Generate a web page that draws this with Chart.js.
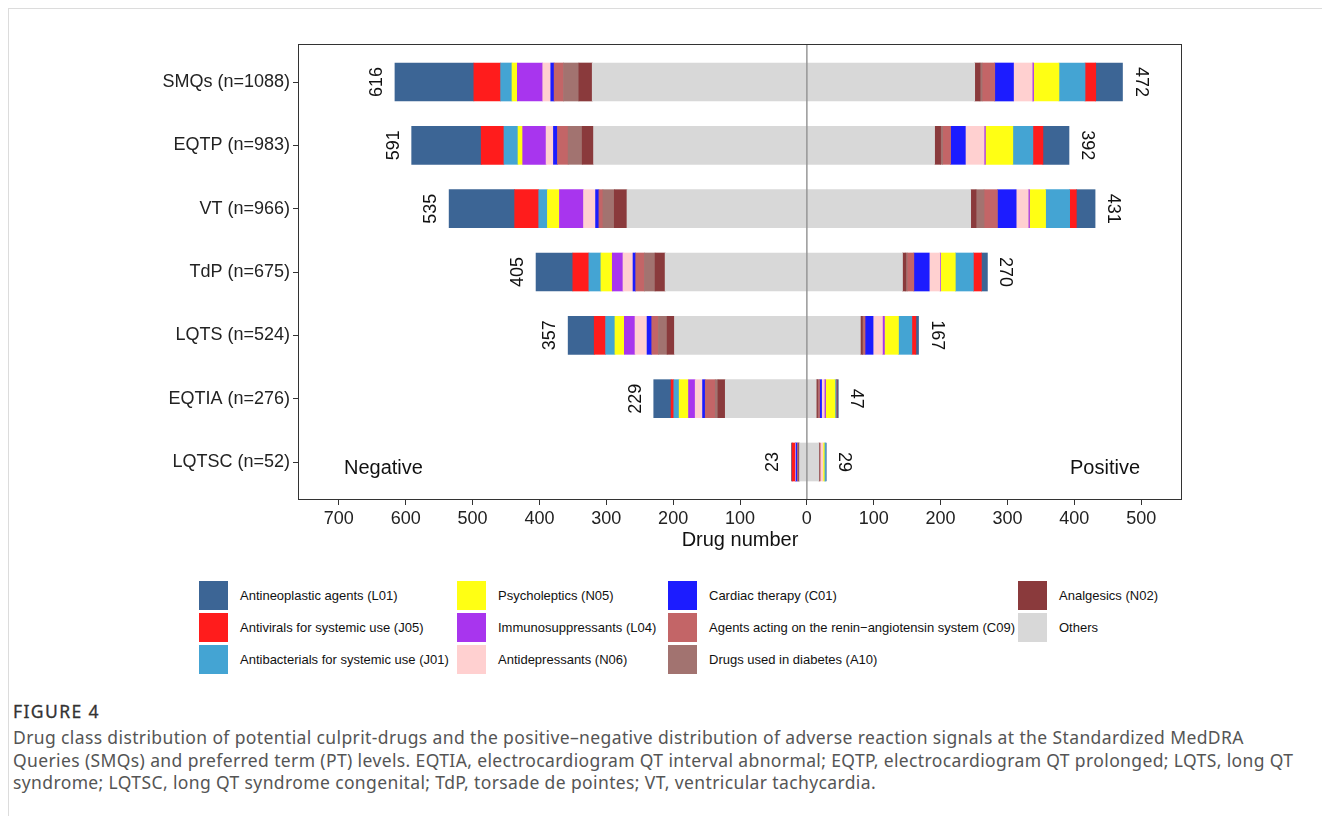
<!DOCTYPE html>
<html>
<head>
<meta charset="utf-8">
<script src="https://cdn.jsdelivr.net/npm/chart.js@4/dist/chart.umd.min.js"></script>
<style>
  body { margin: 0; background: #fff; width: 1322px; height: 816px; overflow: hidden; position: relative; font-family: "Liberation Sans", Arial, sans-serif; }
  #frame { position: absolute; left: 8px; top: 8px; width: 1340px; height: 840px; border: 1px solid #dcdcdc; }
  #wrap { position: absolute; left: 0; top: 0; width: 1322px; height: 560px; }
  .leg { position: absolute; font-size: 13px; color: #111; white-space: nowrap; }
  .leg span { position: absolute; width: 29px; height: 29px; left: 0; top: 0; }
  .leg b { position: absolute; left: 41px; top: 7px; font-weight: normal; }
  #fig { position: absolute; left: 13px; top: 699px; font-family: "Noto Sans", sans-serif; font-size: 17.5px; color: #333; letter-spacing: 1.4px; -webkit-text-stroke: 0.3px #333; }
  #cap { position: absolute; left: 13px; top: 726px; font-family: "Noto Sans", sans-serif; font-size: 17.5px; letter-spacing: 0.38px; line-height: 22.5px; color: #555; white-space: nowrap; }
</style>
</head>
<body>
<div id="frame"></div>
<div id="wrap"><canvas id="chart"></canvas></div>
<div id="legend"></div>
<div id="fig">FIGURE 4</div>
<div id="cap">Drug class distribution of potential culprit-drugs and the positive–negative distribution of adverse reaction signals at the Standardized MedDRA<br>Queries (SMQs) and preferred term (PT) levels. EQTIA, electrocardiogram QT interval abnormal; EQTP, electrocardiogram QT prolonged; LQTS, long QT<br>syndrome; LQTSC, long QT syndrome congenital; TdP, torsade de pointes; VT, ventricular tachycardia.</div>
<script>
// rows, top to bottom
const categories = ['SMQs (n=1088)', 'EQTP (n=983)', 'VT (n=966)', 'TdP (n=675)', 'LQTS (n=524)', 'EQTIA (n=276)', 'LQTSC (n=52)'];
const negTotals = [616, 591, 535, 405, 357, 229, 23];
const posTotals = [472, 392, 431, 270, 167, 47, 29];
const xTicks = [-700, -600, -500, -400, -300, -200, -100, 0, 100, 200, 300, 400, 500];

// negative side, per drug class
const L01neg = [118, 104, 98, 55, 39, 26, 1];
const J05neg = [40, 34, 36, 24, 17, 4, 5];
const J01neg = [17, 21, 13, 18, 14, 8, 0];
const N05neg = [8, 7, 18, 17, 14, 14, 0];
const L04neg = [38, 35, 36, 16, 16, 10, 0];
const N06neg = [12, 11, 18, 15, 18, 11, 1];
const C01neg = [5, 6, 5, 4, 7, 4, 2];
const C09neg = [14, 16, 6, 13, 10, 15, 1];
const A10neg = [23, 21, 17, 16, 13, 4, 1];
const N02neg = [20, 17, 19, 15, 11, 11, 1];
const OTHneg = [321, 319, 269, 212, 198, 122, 11];

// positive side, per drug class
const L01pos = [40, 39, 28, 9, 4, 2, 1];
const J05pos = [16, 15, 10, 12, 6, 1, 0];
const J01pos = [39, 30, 36, 27, 20, 2, 2];
const N05pos = [38, 41, 24, 22, 21, 14, 2];
const L04pos = [2, 2, 2, 1, 3, 2, 0];
const N06pos = [28, 28, 18, 16, 14, 4, 4];
const C01pos = [28, 22, 28, 23, 12, 3, 0];
const C09pos = [19, 12, 20, 10, 3, 2, 1];
const A10pos = [3, 3, 12, 2, 1, 1, 0];
const N02pos = [8, 9, 8, 5, 3, 2, 1];
const OTHpos = [251, 191, 245, 143, 80, 14, 18];

// legend order (column by column) and colours
const classes = [
  { name: 'Antineoplastic agents (L01)', color: '#3c6595', neg: L01neg, pos: L01pos },
  { name: 'Antivirals for systemic use (J05)', color: '#ff1c1c', neg: J05neg, pos: J05pos },
  { name: 'Antibacterials for systemic use (J01)', color: '#44a4d3', neg: J01neg, pos: J01pos },
  { name: 'Psycholeptics (N05)', color: '#ffff14', neg: N05neg, pos: N05pos },
  { name: 'Immunosuppressants (L04)', color: '#a835ee', neg: L04neg, pos: L04pos },
  { name: 'Antidepressants (N06)', color: '#ffd0d0', neg: N06neg, pos: N06pos },
  { name: 'Cardiac therapy (C01)', color: '#1c1cff', neg: C01neg, pos: C01pos },
  { name: 'Agents acting on the renin\u2212angiotensin system (C09)', color: '#c36567', neg: C09neg, pos: C09pos },
  { name: 'Drugs used in diabetes (A10)', color: '#a27370', neg: A10neg, pos: A10pos },
  { name: 'Analgesics (N02)', color: '#8a3a3c', neg: N02neg, pos: N02pos },
  { name: 'Others', color: '#d8d8d8', neg: OTHneg, pos: OTHpos }
];

// build legend
const legCols = [199, 457, 668, 1018];
const legend = document.getElementById('legend');
classes.forEach((c, i) => {
  const col = Math.floor(i / 3), row = i % 3;
  const d = document.createElement('div');
  d.className = 'leg';
  d.style.left = legCols[col] + 'px';
  d.style.top = (581 + row * 32) + 'px';
  d.innerHTML = '<span style="background:' + c.color + '"></span><b>' + c.name + '</b>';
  legend.appendChild(d);
});

// stacking goes from 0 outward: Others first, Antineoplastic last
const datasets = [];
classes.slice().reverse().forEach(c => {
  datasets.push({
    label: c.name, backgroundColor: c.color, borderWidth: 0, barThickness: 38,
    data: c.neg.map((v, i) => ({ x: -v, y: i }))
  });
  datasets.push({
    label: c.name, backgroundColor: c.color, borderWidth: 0, barThickness: 38,
    data: c.pos.map((v, i) => ({ x: v, y: i }))
  });
});

const extras = {
  id: 'extras',
  afterDatasetsDraw(chart) {
    const ctx = chart.ctx, a = chart.chartArea;
    const xs = chart.scales.x, ys = chart.scales.y;
    // zero line
    ctx.save();
    ctx.strokeStyle = 'rgba(140,140,140,0.9)';
    ctx.lineWidth = 1.5;
    ctx.beginPath();
    ctx.moveTo(xs.getPixelForValue(0), a.top);
    ctx.lineTo(xs.getPixelForValue(0), a.bottom);
    ctx.stroke();
    // totals, rotated
    ctx.fillStyle = '#111';
    ctx.font = '18px "Liberation Sans", Arial, sans-serif';
    ctx.textAlign = 'center';
    ctx.textBaseline = 'middle';
    categories.forEach((c, i) => {
      const y = ys.getPixelForValue(i);
      ctx.save();
      ctx.translate(xs.getPixelForValue(-negTotals[i]) - 18, y);
      ctx.rotate(-Math.PI / 2);
      ctx.fillText(String(negTotals[i]), 0, 0);
      ctx.restore();
      ctx.save();
      ctx.translate(xs.getPixelForValue(posTotals[i]) + 18, y);
      ctx.rotate(Math.PI / 2);
      ctx.fillText(String(posTotals[i]), 0, 0);
      ctx.restore();
    });
    // side labels
    ctx.font = '20px "Liberation Sans", Arial, sans-serif';
    const yl = ys.getPixelForValue(6) + 6;
    ctx.textAlign = 'left';
    ctx.fillText('Negative', a.left + 46, yl);
    ctx.textAlign = 'right';
    ctx.fillText('Positive', a.right - 42, yl);
    // panel border
    ctx.strokeStyle = '#333';
    ctx.lineWidth = 1;
    ctx.strokeRect(a.left + 0.5, a.top + 0.5, a.right - a.left - 1, a.bottom - a.top - 1);
    ctx.restore();
  }
};

new Chart(document.getElementById('chart').getContext('2d'), {
  type: 'bar',
  data: { datasets: datasets },
  options: {
    indexAxis: 'y',
    responsive: true,
    maintainAspectRatio: false,
    animation: false,
    layout: { padding: { top: 44, right: 140, left: 0, bottom: 8 } },
    plugins: { legend: { display: false }, tooltip: { enabled: false } },
    scales: {
      x: {
        type: 'linear', stacked: true, min: -761, max: 561,
        afterBuildTicks: s => { s.ticks = xTicks.map(v => ({ value: v })); },
        afterFit: s => { s.height = 52; },
        grid: { drawOnChartArea: false, drawTicks: true, tickLength: 5, color: '#333' },
        border: { display: false },
        ticks: { callback: v => Math.abs(v), color: '#222', padding: 3, maxRotation: 0,
                 font: { size: 18, family: '"Liberation Sans", Arial, sans-serif' } },
        title: { display: true, text: 'Drug number', color: '#111', padding: { top: 0, bottom: 0 },
                 font: { size: 20, family: '"Liberation Sans", Arial, sans-serif' } }
      },
      y: {
        type: 'linear', stacked: true, reverse: true, min: -0.6, max: 6.6, offset: false,
        afterBuildTicks: s => { s.ticks = categories.map((c, i) => ({ value: i })); },
        afterFit: s => { s.width = 298; },
        grid: { offset: false, drawOnChartArea: false, drawTicks: true, tickLength: 5, color: '#333' },
        border: { display: false },
        ticks: { callback: v => categories[v], color: '#222', padding: 3,
                 font: { size: 18, family: '"Liberation Sans", Arial, sans-serif' } }
      }
    }
  },
  plugins: [extras]
});
</script>
</body>
</html>
